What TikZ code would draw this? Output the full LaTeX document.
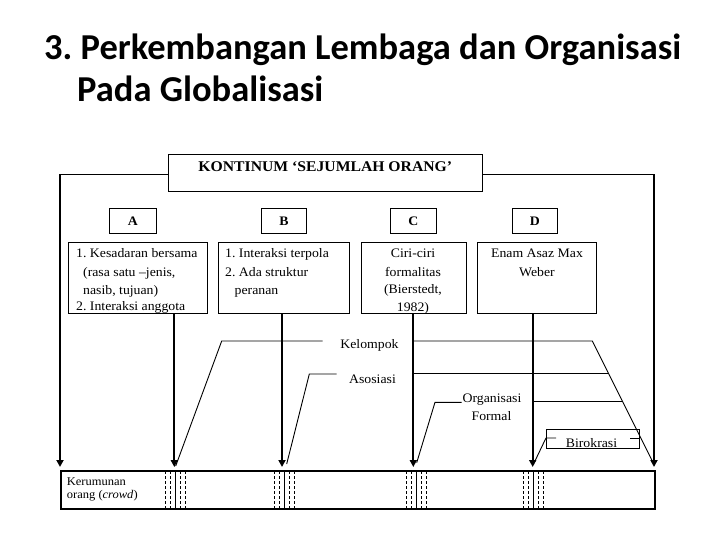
\documentclass[tikz,border=0pt]{standalone}
\usepackage{fontspec}
\setmainfont[FakeStretch=1.06]{Liberation Serif}
\newfontfamily\titlefont{Carlito}
\usetikzlibrary{arrows.meta}
\frenchspacing
\begin{document}
\begin{tikzpicture}[x=1pt,y=-1pt,
  thinline/.style={line width=0.9pt},
  harrow/.style={line width=2pt,-{Triangle[length=7pt,width=7pt]}},
  boxstyle/.style={draw,line width=0.9pt,inner sep=0pt,anchor=north west},
  txt/.style={font=\fontsize{13}{17}\selectfont,inner sep=0pt},
  lettxt/.style={font=\bfseries\fontsize{13}{16}\selectfont},
  smalltxt/.style={font=\fontsize{11.8}{13}\selectfont,inner sep=0pt,anchor=base west},
  dashv/.style={line width=0.9pt,dash pattern=on 3pt off 2pt},
  solidv/.style={line width=0.9pt},
  titletxt/.style={font=\titlefont\bfseries\fontsize{36.5}{42}\selectfont,inner sep=0pt,anchor=base west}]
\useasboundingbox (0,0) rectangle (720,540);

% heading
\node[titletxt] (t1) at (44,60) {3. Perkembangan Lembaga dan Organisasi};
\node[titletxt] (t2) at (77,102) {Pada Globalisasi};

% title box and frame
\node[boxstyle,minimum width=314pt,minimum height=36.4pt] (kbox) at (168.3,154.3) {};
\node[font=\bfseries\fontsize{14.8}{18}\selectfont,inner sep=0pt,anchor=base] (ktxt) at (325.3,172) {KONTINUM ‘SEJUMLAH ORANG’};
\coordinate (fl) at (60,174.3);
\coordinate (fr) at (654,174.3);
\draw[thinline] (kbox.west |- fl) -- (fl);
\draw[thinline] (kbox.east |- fr) -- (fr);

% bottom box
\node[draw,line width=2pt,inner sep=0pt,anchor=north west,minimum width=594pt,minimum height=38pt] (bot) at (60,470) {};
\node[smalltxt] (k1) at (66.7,485.5) {Kerumunan};
\node[smalltxt] (k2) at (66.7,498) {orang (\textit{crowd})};

% frame arrows
\draw[harrow] (fl) -- ([yshift=3pt]bot.north -| fl);
\draw[harrow] (fr) -- ([yshift=3pt]bot.north -| fr);

% label boxes
\node[boxstyle,lettxt,minimum width=47pt,minimum height=24.4pt] (la) at (109,208.3) {A};
\node[boxstyle,lettxt,minimum width=45.5pt,minimum height=24.4pt] (lb) at (260.7,208.3) {B};
\node[boxstyle,lettxt,minimum width=46pt,minimum height=24.4pt] (lc) at (390,208.3) {C};
\node[boxstyle,lettxt,minimum width=45pt,minimum height=24.4pt] (ld) at (512,208.3) {D};

% content boxes
\node[boxstyle,minimum width=139pt,minimum height=71.6pt] (ca) at (67.7,241.7) {};
\node[boxstyle,minimum width=130.7pt,minimum height=71.6pt] (cb) at (218.3,241.7) {};
\node[boxstyle,minimum width=105pt,minimum height=71.6pt] (cc) at (360.5,241.7) {};
\node[boxstyle,minimum width=118.7pt,minimum height=71.6pt] (cd) at (477.3,241.7) {};

% content texts
\node[txt,anchor=base west] (a1) at (76,258) {1. Kesadaran bersama};
\node[txt,anchor=base west] (a2) at (83,276) {(rasa satu –jenis,};
\node[txt,anchor=base west] (a3) at (83,294.5) {nasib, tujuan)};
\node[txt,anchor=base west] (a4) at (76,310.5) {2. Interaksi anggota};

\node[txt,anchor=base west] (b1) at (225,258) {1. Interaksi terpola};
\node[txt,anchor=base west] (b2) at (225,276) {2. Ada struktur};
\node[txt,anchor=base west] (b3) at (234.5,294.5) {peranan};

\node[txt,anchor=base] (c1) at (413,258) {Ciri-ciri};
\node[txt,anchor=base] (c2) at (413,276.5) {formalitas};
\node[txt,anchor=base] (c3) at (413,293) {(Bierstedt,};
\node[txt,anchor=base] (c4) at (413,311) {1982)};

\node[txt,anchor=base] (d1) at (537,258) {Enam Asaz Max};
\node[txt,anchor=base] (d2) at (537,276.5) {Weber};

% vertical arrows
\coordinate (xa) at (174.3,0);
\coordinate (xb) at (282,0);
\coordinate (xc) at (413.3,0);
\coordinate (xd) at (532.7,0);
\draw[harrow] (ca.south -| xa) -- ([yshift=3pt]bot.north -| xa);
\draw[harrow] (cb.south -| xb) -- ([yshift=3pt]bot.north -| xb);
\draw[harrow] (cc.south -| xc) -- ([yshift=3pt]bot.north -| xc);
\draw[harrow] (cd.south -| xd) -- ([yshift=3pt]bot.north -| xd);

% category labels
\node[txt,anchor=base] (kel) at (369.5,348.5) {Kelompok};
\node[txt,anchor=base] (aso) at (372.5,383.5) {Asosiasi};
\node[txt,anchor=base] (org1) at (492,402) {Organisasi};
\node[txt,anchor=base] (org2) at (491.5,420) {Formal};
\node[boxstyle,minimum width=92.7pt,minimum height=18.7pt] (bir) at (546,429.3) {};
\node[txt,anchor=base] (birt) at (591.5,447) {Birokrasi};

% connector points
\coordinate (kelA) at (322.7,341);
\coordinate (kelB) at (221.7,341);
\coordinate (kelE) at (175.7,466);
\coordinate (kelR0) at (413.3,341);
\coordinate (kelR1) at (592.3,341);
\coordinate (kelRE) at (652.3,461);

\coordinate (asoA) at (336.7,374);
\coordinate (asoB) at (309.3,374);
\coordinate (asoE) at (286.7,464);
\coordinate (asoR0) at (413.3,373);
\coordinate (asoR1) at (608.3,373);

\coordinate (orgA) at (461.7,402.3);
\coordinate (orgB) at (435,402.3);
\coordinate (orgE) at (416.7,462.7);
\coordinate (orgR0) at (532.7,401);
\coordinate (orgR1) at (622.3,401);

\coordinate (birA) at (556,438);
\coordinate (birB) at (546,438);
\coordinate (birE) at (534,463);
\coordinate (birR0) at (630,438);
\coordinate (birR1) at (638.7,438);

\draw[thinline] (kelA) -- (kelB) -- (kelE);
\draw[thinline] (kelR0) -- (kelR1) -- (kelRE);
\draw[thinline] (asoA) -- (asoB) -- (asoE);
\draw[thinline] (asoR0) -- (asoR1);
\draw[thinline] (orgA) -- (orgB) -- (orgE);
\draw[thinline] (orgR0) -- (orgR1);
\draw[thinline] (birA) -- (birB) -- (birE);
\draw[thinline] (birR0) -- (birR1);

% lines inside bottom box
\foreach \c in {175.7,284,416,533.3}{
  \draw[solidv] (\c,471) -- (\c,508);
  \foreach \d in {-10,-5,5,10}{
    \draw[dashv] (\c+\d,471) -- (\c+\d,508);
  }
}
\end{tikzpicture}
\end{document}
